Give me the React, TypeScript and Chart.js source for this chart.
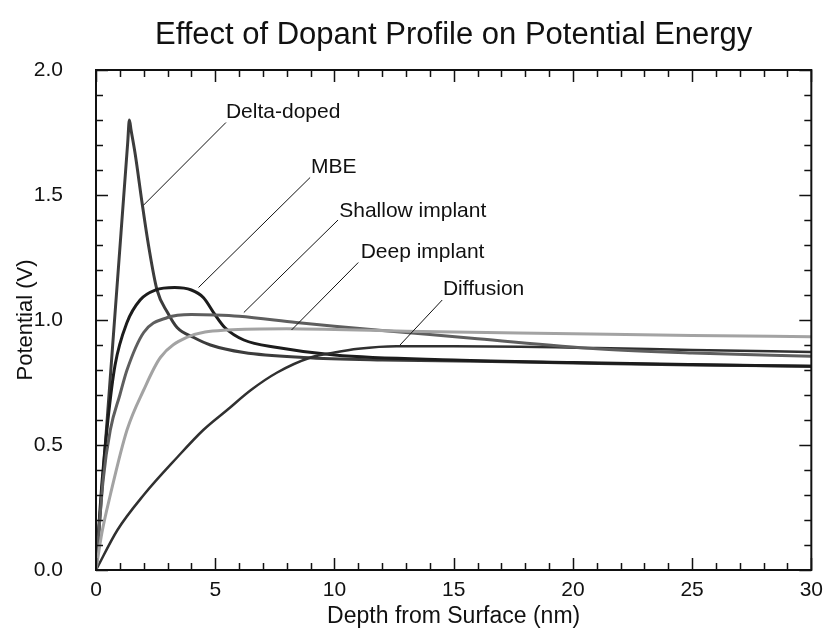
import React, { useEffect, useRef } from "react";
import { Chart, registerables } from "chart.js";

Chart.register(...registerables);

const TITLE = "Effect of Dopant Profile on Potential Energy";
const X_TITLE = "Depth from Surface (nm)";
const Y_TITLE = "Potential (V)";
const FONT = "'Liberation Sans', Arial, Helvetica, sans-serif";

// Series data (depth in nm, potential in V)
const deltaX = [0, 0.35, 0.7, 1.05, 1.33, 1.4, 1.47, 1.65, 1.93, 2.2, 2.56, 3.0, 3.4, 4.1, 4.8, 6.2, 8.7, 12, 16, 20, 25, 30];
const deltaY = [0, 0.45, 0.9, 1.35, 1.71, 1.8, 1.76, 1.66, 1.47, 1.3, 1.12, 1.03, 0.97, 0.93, 0.9, 0.87, 0.85, 0.84, 0.835, 0.828, 0.82, 0.815];

const mbeX = [0, 0.25, 0.5, 0.8, 1.3, 1.85, 2.5, 3.3, 4.0, 4.5, 5.0, 5.4, 6.2, 7.6, 10, 15, 20, 25, 30];
const mbeY = [0, 0.35, 0.6, 0.82, 0.99, 1.08, 1.12, 1.13, 1.12, 1.09, 1.02, 0.97, 0.92, 0.89, 0.86, 0.84, 0.83, 0.822, 0.815];

const shallowX = [0, 0.3, 0.6, 1.0, 1.3, 2.0, 3.0, 4.0, 5.0, 6.0, 8.4, 10, 13, 16, 21, 25, 30];
const shallowY = [0, 0.36, 0.56, 0.7, 0.8, 0.95, 1.01, 1.022, 1.02, 1.015, 0.99, 0.975, 0.95, 0.925, 0.885, 0.868, 0.855];

const deepX = [0, 0.25, 0.6, 1.3, 2.0, 2.7, 3.8, 5.5, 8, 10, 13, 20, 25, 30];
const deepY = [0, 0.15, 0.3, 0.56, 0.72, 0.85, 0.93, 0.96, 0.965, 0.962, 0.955, 0.945, 0.938, 0.933];

const diffusionX = [0, 0.9, 2.0, 3.4, 4.5, 5.5, 6.5, 7.6, 9.0, 10, 11, 12.6, 15, 21, 25, 30];
const diffusionY = [0, 0.16, 0.3, 0.45, 0.56, 0.64, 0.72, 0.79, 0.85, 0.87, 0.885, 0.895, 0.895, 0.888, 0.88, 0.872];

// Annotation labels with leader lines (data coordinates)
const LABELS = ["Delta-doped", "MBE", "Shallow implant", "Deep implant", "Diffusion"];
const LABEL_X = [5.45, 9.02, 10.2, 11.1, 14.55];
const LABEL_Y = [1.832, 1.612, 1.437, 1.27, 1.122];
const LEADER_FROM_X = [5.45, 8.98, 10.15, 11.0, 14.52];
const LEADER_FROM_Y = [1.79, 1.57, 1.4, 1.23, 1.08];
const LEADER_TO_X = [2.0, 4.3, 6.2, 8.2, 12.75];
const LEADER_TO_Y = [1.46, 1.13, 1.03, 0.96, 0.9];

const X_MAX = 30;
const Y_MAX = 2;

function pts(xs: number[], ys: number[]) {
  return xs.map((x, i) => ({ x, y: ys[i] }));
}

const framePlugin = {
  id: "frameTicks",
  afterDatasetsDraw(chart: any) {
    const { ctx, chartArea: a, scales } = chart;
    const xs = scales.x;
    const ys = scales.y;
    ctx.save();
    // inner ticks
    ctx.strokeStyle = "#111";
    ctx.lineWidth = 1.5;
    ctx.beginPath();
    for (let i = 0; i <= X_MAX; i++) {
      const px = Math.round(xs.getPixelForValue(i)) + 0.5;
      const len = i % 5 === 0 ? 12 : 7;
      ctx.moveTo(px, a.bottom);
      ctx.lineTo(px, a.bottom - len);
      ctx.moveTo(px, a.top);
      ctx.lineTo(px, a.top + len);
    }
    for (let i = 0; i <= Y_MAX * 10; i++) {
      const py = Math.round(ys.getPixelForValue(i / 10)) + 0.5;
      const len = i % 5 === 0 ? 12 : 7;
      ctx.moveTo(a.left, py);
      ctx.lineTo(a.left + len, py);
      ctx.moveTo(a.right, py);
      ctx.lineTo(a.right - len, py);
    }
    ctx.stroke();
    // frame
    ctx.lineWidth = 2;
    ctx.strokeRect(a.left, a.top, a.right - a.left, a.bottom - a.top);

    // title
    ctx.fillStyle = "#111";
    ctx.font = `31px ${FONT}`;
    ctx.textAlign = "center";
    ctx.textBaseline = "alphabetic";
    ctx.fillText(TITLE, (a.left + a.right) / 2, 44);

    // annotations
    ctx.font = `21px ${FONT}`;
    ctx.textAlign = "left";
    ctx.textBaseline = "middle";
    ctx.lineWidth = 1;
    for (let i = 0; i < LABELS.length; i++) {
      ctx.fillText(LABELS[i], xs.getPixelForValue(LABEL_X[i]), ys.getPixelForValue(LABEL_Y[i]));
      ctx.beginPath();
      ctx.moveTo(xs.getPixelForValue(LEADER_FROM_X[i]), ys.getPixelForValue(LEADER_FROM_Y[i]));
      ctx.lineTo(xs.getPixelForValue(LEADER_TO_X[i]), ys.getPixelForValue(LEADER_TO_Y[i]));
      ctx.stroke();
    }
    ctx.restore();
  },
};

export default function App() {
  const ref = useRef<HTMLCanvasElement | null>(null);

  useEffect(() => {
    if (!ref.current) return;
    const mk = (label: string, xs: number[], ys: number[], color: string, width: number) => ({
      label,
      data: pts(xs, ys),
      borderColor: color,
      backgroundColor: color,
      borderWidth: width,
      pointRadius: 0,
      fill: false,
      cubicInterpolationMode: "monotone" as const,
    });
    const chart = new Chart(ref.current, {
      type: "line",
      data: {
        datasets: [
          mk("Deep implant", deepX, deepY, "#a3a3a3", 3),
          mk("Shallow implant", shallowX, shallowY, "#5e5e5e", 3),
          mk("Diffusion", diffusionX, diffusionY, "#303030", 2.5),
          mk("MBE", mbeX, mbeY, "#1c1c1c", 3),
          mk("Delta-doped", deltaX, deltaY, "#3c3c3c", 3),
        ],
      },
      options: {
        responsive: false,
        animation: false,
        layout: { padding: { left: 0, right: 19, top: 70, bottom: 0 } },
        plugins: {
          legend: { display: false },
          tooltip: { enabled: false },
          title: { display: false },
        },
        scales: {
          x: {
            type: "linear",
            min: 0,
            max: X_MAX,
            grid: { display: false, drawTicks: false },
            border: { display: false },
            ticks: {
              stepSize: 5,
              autoSkip: false,
              maxRotation: 0,
              padding: 8,
              color: "#111",
              font: { family: FONT, size: 21 },
            },
            title: {
              display: true,
              text: X_TITLE,
              color: "#111",
              font: { family: FONT, size: 23 },
              padding: { top: 0, bottom: 13 },
            },
            afterFit: (s: any) => {
              s.height = 73;
            },
          },
          y: {
            type: "linear",
            min: 0,
            max: Y_MAX,
            grid: { display: false, drawTicks: false },
            border: { display: false },
            ticks: {
              stepSize: 0.5,
              padding: 33,
              color: "#111",
              font: { family: FONT, size: 21 },
              callback: (v: any) => Number(v).toFixed(1),
            },
            title: {
              display: true,
              text: Y_TITLE,
              color: "#111",
              font: { family: FONT, size: 22 },
              padding: { top: 13, bottom: 0 },
            },
            afterFit: (s: any) => {
              s.width = 96;
            },
          },
        },
      },
      plugins: [framePlugin],
    });
    return () => chart.destroy();
  }, []);

  return (
    <div style={{ position: "fixed", left: 0, top: 0, width: 831, height: 643, background: "#fff" }}>
      <canvas ref={ref} width={831} height={643} style={{ display: "block" }} />
    </div>
  );
}
